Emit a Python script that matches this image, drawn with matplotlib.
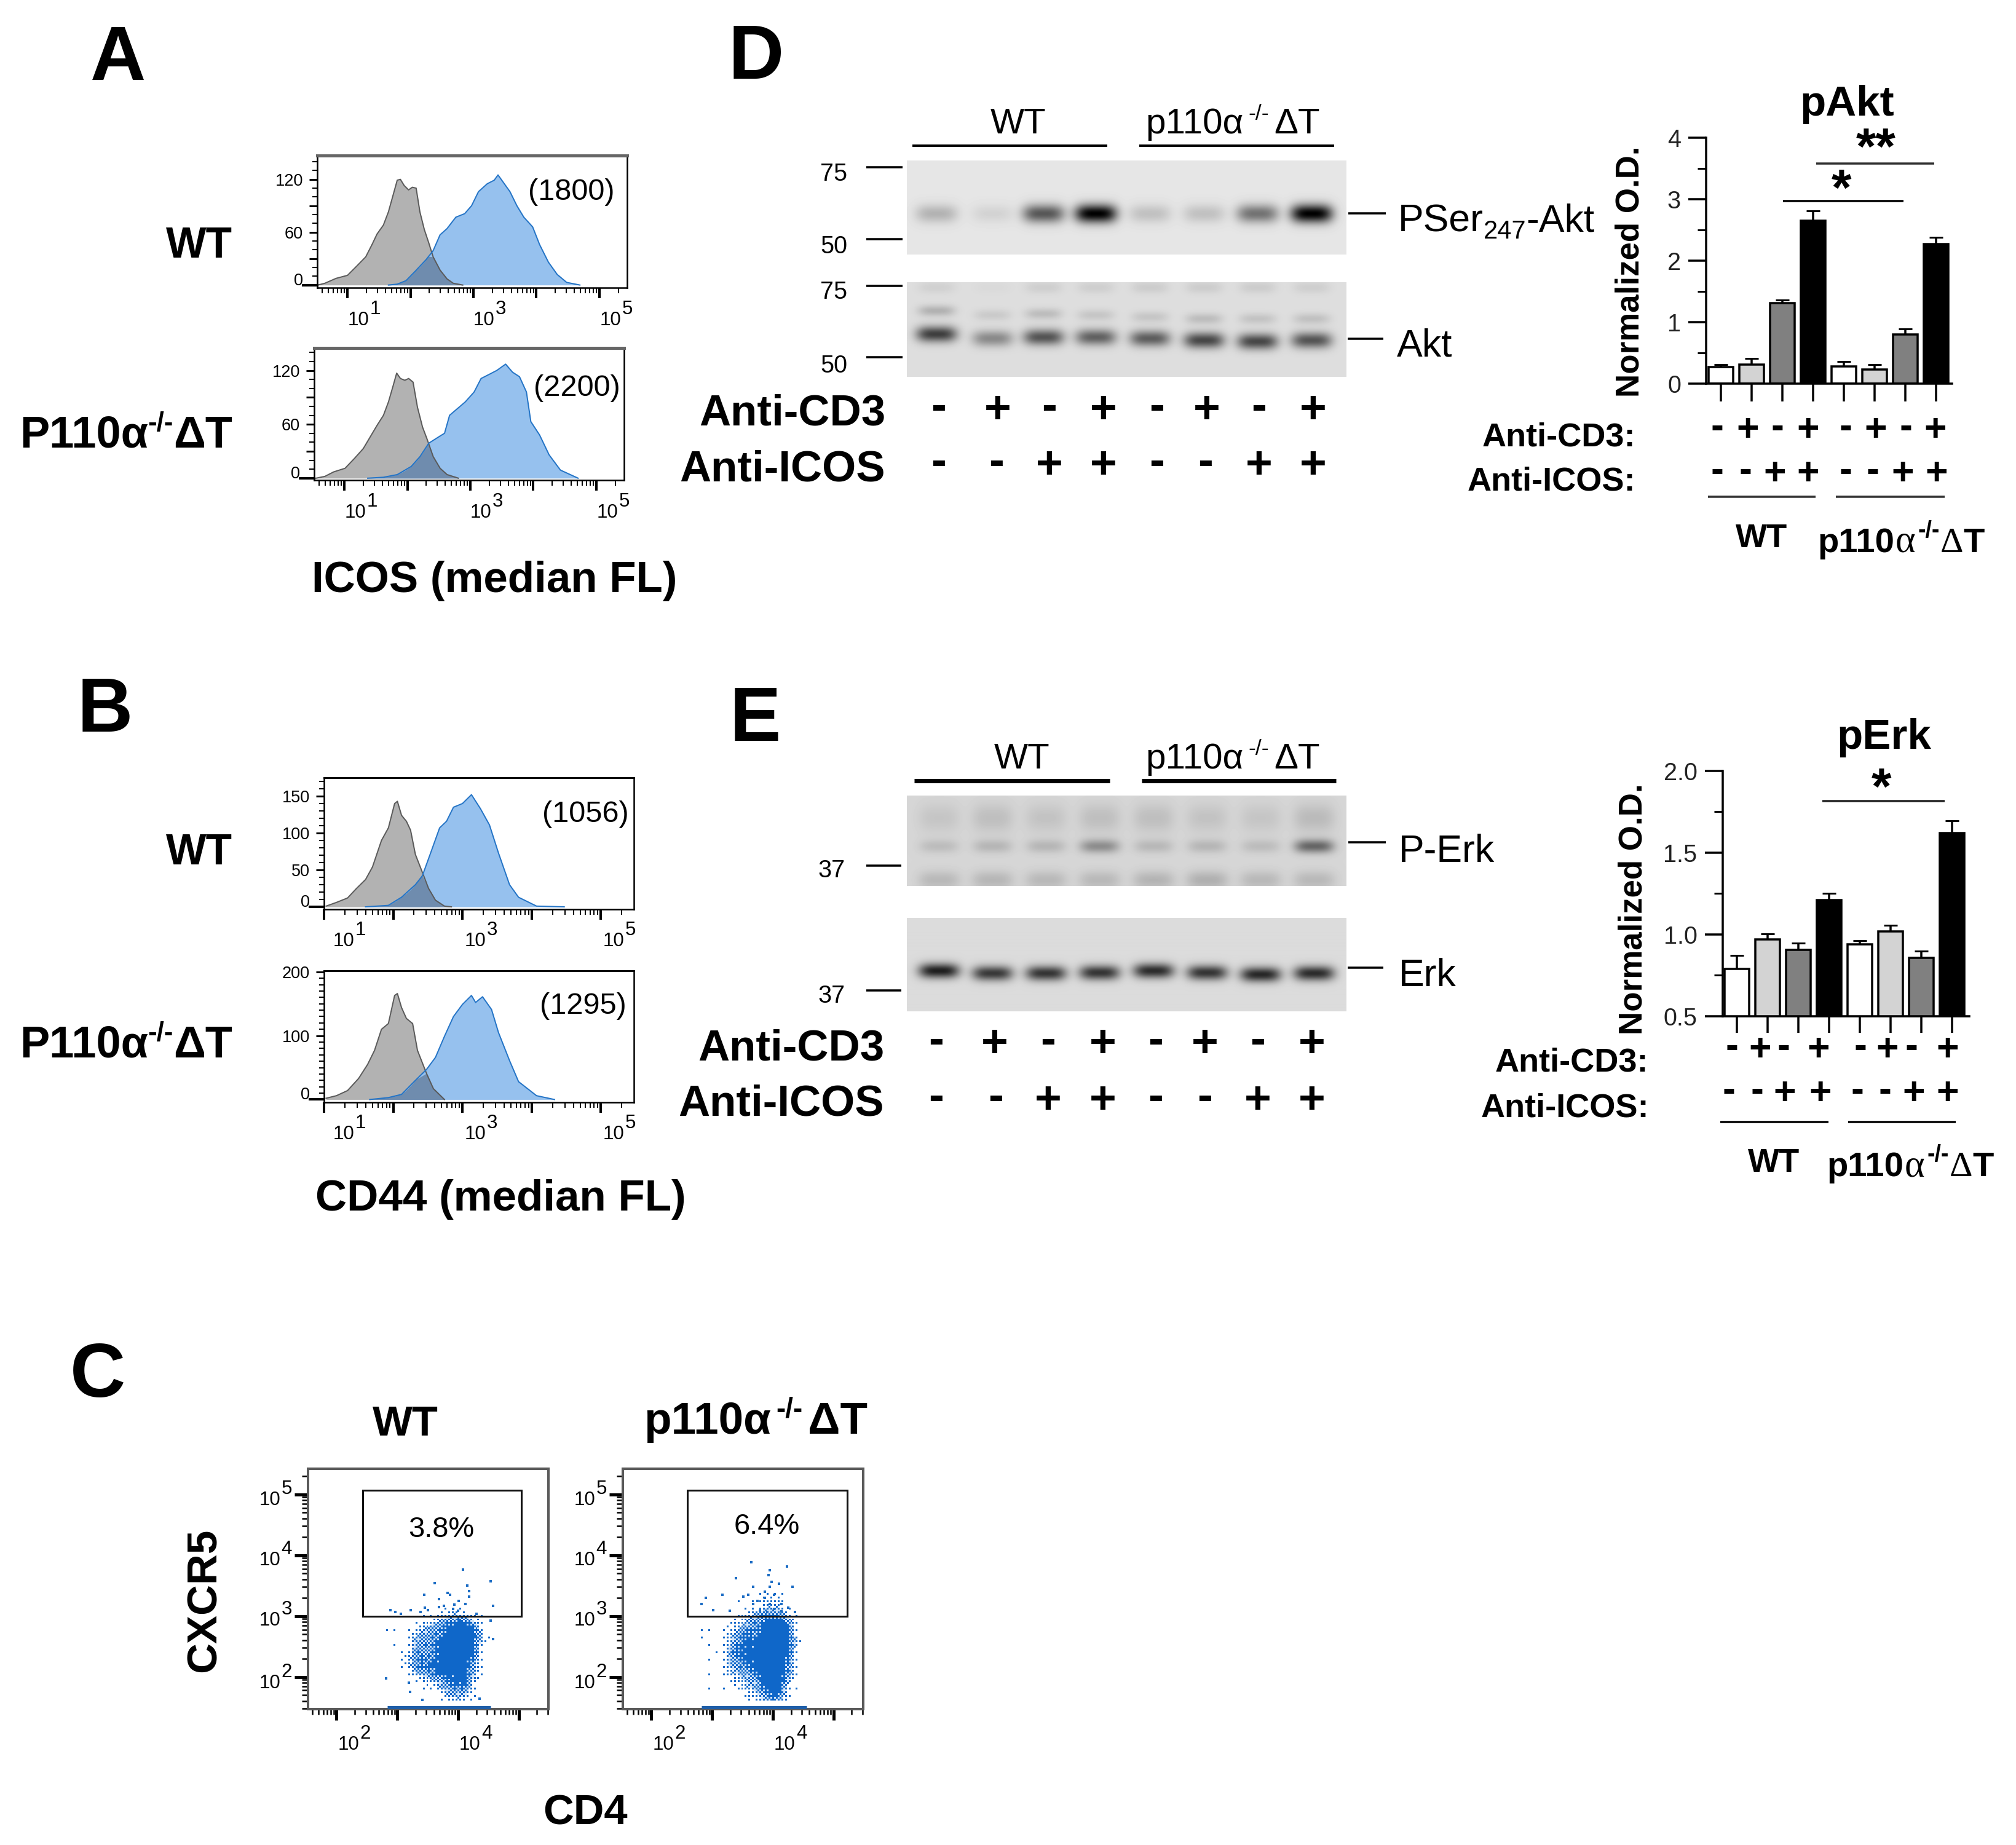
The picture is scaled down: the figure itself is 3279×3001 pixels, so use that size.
import numpy as np
import matplotlib
matplotlib.use('Agg')
import matplotlib.pyplot as plt
from matplotlib.colors import ListedColormap
from matplotlib.patches import Rectangle
from matplotlib.ticker import MultipleLocator, NullFormatter
from matplotlib.transforms import ScaledTranslation

W, H = 3279, 3001
DPI = 300
PT = 72 / DPI
SANS = 'Liberation Sans'
NARROW = ['Liberation Sans Narrow', 'Liberation Sans']
SERIF = 'Liberation Serif'
plt.rcParams['font.family'] = [SANS, 'DejaVu Sans']

# ---------- histogram data (log10 intensity, counts) ----------
a1_gray_x = [0.53,0.64,0.82,1.0,1.14,1.29,1.39,1.47,1.57,1.65,1.72,1.79,1.84,1.9,1.97,2.03,2.09,2.15,2.22,2.29,2.36,2.47,2.58,2.68,2.83]
a1_gray_y = [0,2,7.6,11,21,32,46,58,68,83,101,119,120,113,108,111,110,83,63,48,32,17,7,2,0]
a1_blue_x = [1.65,1.79,1.93,2.08,2.25,2.36,2.47,2.58,2.72,2.86,2.97,3.08,3.22,3.33,3.39,3.47,3.58,3.69,3.8,3.94,4.05,4.19,4.33,4.48,4.69]
a1_blue_y = [0,1,5,16,29,39,57,64,77,81,90,106,115,119,125,117,106,90,77,66,46,26,12,3,0]
a2_gray_x = [0.55,0.69,0.83,1.01,1.16,1.30,1.41,1.52,1.62,1.70,1.77,1.83,1.89,1.96,2.02,2.09,2.16,2.24,2.31,2.41,2.52,2.63,2.81]
a2_gray_y = [0,2,7,11,22,33,46,59,70,85,102,117,111,109,111,107,79,57,44,24,11,4,0]
a2_blue_x = [1.37,1.62,1.84,2.06,2.20,2.34,2.52,2.59,2.67,2.77,2.92,3.06,3.17,3.31,3.42,3.56,3.67,3.78,3.89,3.96,4.10,4.25,4.43,4.71]
a2_blue_y = [0,1,4,13,24,39,47,50,70,76,85,96,111,116,120,127,118,113,96,63,48,26,9,0]
b1_gray_x = [1.03,1.18,1.34,1.47,1.60,1.70,1.83,1.93,2.02,2.06,2.12,2.19,2.25,2.32,2.42,2.51,2.61,2.74,2.84]
b1_gray_y = [1,6,12,25,37,54,90,107,140,143,124,116,104,71,47,25,9,1,0]
b1_blue_x = [1.60,1.93,2.12,2.32,2.42,2.54,2.67,2.77,2.87,3.0,3.13,3.26,3.39,3.52,3.68,3.81,4.07,4.47]
b1_blue_y = [0,2,13,30,42,73,107,116,135,140,152,133,111,73,30,13,1,0]
b2_gray_x = [1.03,1.18,1.34,1.50,1.63,1.73,1.83,1.93,2.02,2.06,2.12,2.19,2.28,2.35,2.48,2.58,2.74]
b2_gray_y = [2,6,14,33,55,77,110,119,163,166,144,127,119,77,41,17,0]
b2_blue_x = [1.66,1.93,2.12,2.32,2.48,2.61,2.74,2.87,3.0,3.13,3.19,3.29,3.42,3.52,3.68,3.81,4.07,4.33]
b2_blue_y = [0,3,8,30,47,66,99,130,149,163,152,161,141,105,61,28,6,0]

# ---------- bars ----------
bar_colors = ['white', '#d3d3d3', '#808080', 'black'] * 2
pakt_vals = [0.27,0.31,1.31,2.65,0.28,0.23,0.80,2.27]
pakt_errs = [0.04,0.10,0.05,0.16,0.08,0.08,0.09,0.11]
perk_vals = [0.79,0.968,0.907,1.21,0.94,1.02,0.856,1.62]
perk_errs = [0.08,0.037,0.041,0.04,0.022,0.034,0.041,0.075]
anti_cd3 = ['-','+','-','+','-','+','-','+']
anti_icos = ['-','-','+','+','-','-','+','+']

# ---------- blot band intensities ----------
pakt_band = [.22,.08,.62,1,.16,.16,.5,1]
akt_main = [.72,.38,.62,.56,.58,.68,.68,.62]
akt_upper = [.2,.09,.15,.11,.11,.15,.12,.13]
akt_top = [.06,.02,.07,.07,.08,.08,.08,.07]
perk_main = [.12,.15,.15,.34,.14,.15,.12,.52]
perk_low = [.14,.15,.14,.14,.16,.18,.14,.14]
perk_up = [.08,.11,.09,.11,.11,.09,.08,.13]
erk_main = [.86,.74,.76,.76,.8,.76,.82,.8]

# ---------- CXCR5 / CD4 density tables (0-9, columns log CD4 2.7..4.6, rows log CXCR5 3.4..1.6) ----------
lx_cols = [2.7,2.8,2.9,3.0,3.1,3.2,3.3,3.4,3.5,3.6,3.7,3.8,3.9,4.0,4.1,4.2,4.3,4.4,4.5,4.6]
ly_rows = [3.4,3.3,3.2,3.1,3.0,2.9,2.8,2.7,2.6,2.5,2.4,2.3,2.2,2.1,2.0,1.9,1.8,1.7,1.6]
wt_density = [
 [0,0,0,0,0,0,0,0,0,0,0,0,0,0,0,0,0,0,0,0],
 [0,0,0,0,0,0,0,0,0,0,0,0,0,0,0,0,0,0,0,0],
 [0,0,0,0,0,0,0,0,0,0,0,1,1,1,1,0,0,0,0,0],
 [0,0,0,0,0,0,0,0,1,1,1,2,3,3,2,1,0,0,0,0],
 [0,0,0,0,0,0,0,1,1,2,3,4,5,5,5,3,2,1,0,0],
 [0,1,0,0,0,0,1,2,3,4,5,6,7,8,8,6,4,2,1,0],
 [0,2,1,0,0,1,3,4,5,6,6,7,9,9,9,9,6,3,1,0],
 [0,1,1,1,0,2,4,5,6,6,7,8,9,9,9,9,7,4,1,0],
 [0,1,0,1,1,3,5,6,6,6,7,9,9,9,9,9,7,4,2,0],
 [0,1,1,1,1,3,5,6,6,7,8,9,9,9,9,9,6,3,1,0],
 [0,1,0,1,2,4,6,6,6,6,8,9,9,9,9,8,6,3,1,0],
 [0,1,0,1,2,4,6,7,6,7,8,9,9,9,9,8,5,2,0,0],
 [0,1,0,0,2,4,6,7,7,8,9,9,9,9,9,7,4,2,0,0],
 [0,0,0,1,1,2,5,6,6,7,8,9,9,9,8,6,4,2,0,0],
 [0,1,0,0,0,1,3,4,5,6,7,7,8,9,8,6,3,1,0,0],
 [0,0,0,0,0,1,1,2,3,4,5,6,7,8,8,5,2,1,0,0],
 [0,0,0,0,0,0,1,1,1,2,4,5,6,6,6,4,2,0,0,0],
 [0,0,0,0,0,0,0,1,1,1,2,4,5,5,5,3,2,0,0,0],
 [0,0,0,0,0,0,0,0,0,1,1,3,3,4,3,2,1,0,0,0]]
ko_density = [
 [0,0,0,0,0,0,0,0,1,1,1,1,2,2,2,1,0,0,0,0],
 [0,0,0,0,0,0,0,0,1,1,1,2,3,3,3,2,1,0,0,0],
 [0,0,0,0,0,0,0,1,1,1,2,3,4,4,4,2,1,0,0,0],
 [0,0,0,0,0,0,1,1,1,2,3,4,5,5,5,3,2,0,0,0],
 [0,0,0,1,0,0,1,2,3,4,5,6,7,7,7,5,3,1,0,0],
 [0,1,0,1,0,1,2,3,4,5,6,7,8,9,9,7,5,2,1,0],
 [0,2,1,1,1,1,3,4,5,6,7,7,9,9,9,9,6,3,1,0],
 [0,2,1,1,1,2,4,5,7,7,7,8,9,9,9,9,6,3,1,0],
 [0,1,1,1,1,3,4,6,7,8,8,9,9,9,9,9,7,4,1,0],
 [0,1,1,1,1,3,5,7,8,8,8,9,9,9,9,9,6,4,1,0],
 [1,1,1,1,2,4,5,7,8,8,9,9,9,9,9,8,6,3,1,0],
 [0,1,1,1,1,3,5,6,7,8,8,9,9,9,9,8,5,3,1,0],
 [0,1,1,1,1,3,5,6,7,7,8,9,9,9,9,8,5,2,1,0],
 [0,1,0,1,1,2,4,5,6,6,7,9,9,9,9,7,5,2,0,0],
 [1,0,1,1,1,2,3,4,5,5,6,8,9,9,9,7,4,2,0,0],
 [0,1,1,1,1,1,2,3,4,5,5,7,9,9,9,6,3,1,0,0],
 [0,1,1,1,1,1,1,2,3,4,5,6,8,9,8,5,2,1,0,0],
 [0,0,1,1,0,1,1,1,2,3,4,5,7,8,7,4,2,0,0,0],
 [0,0,0,0,0,1,1,1,1,2,3,4,5,6,5,3,1,0,0,0]]
wt_out_x = [4.08,4.54,3.62,4.15,4.18,4.18,3.83,3.87,3.44,3.69,3.69,3.77,4.58,4.01,4.12,3.94,2.89,2.97,3.22,3.38,3.50,3.45,3.92,4.00,4.31,3.06,4.54,4.58,2.82,3.21,3.19,3.41,4.36]
wt_out_y = [3.76,3.57,3.54,3.50,3.41,3.32,3.38,3.35,3.35,3.28,3.15,3.17,3.17,3.25,3.20,3.19,3.10,3.07,3.10,3.07,3.10,3.14,3.12,3.09,3.04,3.04,2.92,2.62,1.98,1.75,1.90,1.62,1.64]
ko_out_x = [3.65,4.23,3.95,3.39,3.93,3.98,3.68,4.10,4.33,3.52,3.60,3.17,2.83,2.90,3.02,3.29,3.75,3.87,3.95,4.02,4.14,4.25,3.79,3.91,4.02,4.14,4.37,3.87,3.95,3.68]
ko_out_y = [3.88,3.81,3.75,3.62,3.67,3.56,3.48,3.53,3.48,3.32,3.35,3.35,3.20,3.30,3.10,3.09,3.25,3.30,3.20,3.35,3.20,3.14,3.09,3.07,3.12,3.08,3.07,3.40,3.48,3.20]
wt_floor = [2.84, 4.54]
ko_floor = [2.83, 4.56]
wt_gate = [2.43, 5.04, 3.0, 5.07]
ko_gate = [2.59, 5.23, 3.0, 5.07]

# ---------- figure ----------
fig = plt.figure(figsize=(W / DPI, H / DPI), dpi=DPI, facecolor='white')

def axpx(x0, y0, x1, y1, **kw):
    return fig.add_axes([x0 / W, 1 - y1 / H, (x1 - x0) / W, (y1 - y0) / H], **kw)

ov = axpx(0, 0, W, H, zorder=20)
ov.set_xlim(0, W); ov.set_ylim(H, 0); ov.axis('off'); ov.patch.set_alpha(0)

def px(v):
    return v * PT

def txt(x, yc, s, size, weight='normal', ha='center', family=SANS, rot=0, color='black', k=0.36):
    e = size / PT * k
    if rot:
        return ov.text(x + e, yc, s, fontsize=size, fontweight=weight, ha='center', va='baseline',
                       rotation=rot, family=family, color=color, rotation_mode='anchor')
    return ov.text(x, yc + e, s, fontsize=size, fontweight=weight, ha=ha, va='baseline',
                   family=family, color=color)

def rich(x, base, parts, ha='left'):
    """parts: (text, size, weight, family, rise-in-px, gap-after-px)"""
    r = fig.canvas.get_renderer()
    arts, cx = [], x
    for s, size, weight, family, rise, gap in parts:
        t = ov.text(cx, base - rise, s, fontsize=size, fontweight=weight, family=family, ha='left', va='baseline')
        w = t.get_window_extent(r).width
        arts.append(t)
        cx += w + gap
    tot = cx - x
    shift = {'left': 0, 'center': tot / 2, 'right': tot}[ha]
    if shift:
        for t in arts:
            a, b = t.get_position()
            t.set_position((a - shift, b))

def line(x0, x1, y, lw=3, color='black'):
    ov.plot([x0, x1], [y, y], color=color, lw=px(lw), solid_capstyle='butt')

def sign(x, y, s, size=18):
    k = 0.33 if s == '+' else 0.27
    ov.text(x, y + size / PT * k, s, fontsize=size, fontweight='bold', ha='center', va='baseline')

def decade(x, base, exp, size=7.5):
    rich(x, base, [('10', size, 'normal', NARROW, 0, 1), (str(exp), size, 'normal', NARROW, 18, 0)])

# ---------- histograms ----------
def hist(rect, xlim, ylim, gx, gy, bx, by, majors, labels, minor_step, top_col='#666666', top_lw=5):
    ax = axpx(*rect)
    gx, bx = 10.0 ** np.array(gx), 10.0 ** np.array(bx)
    gy, by = np.array(gy, float), np.array(by, float)
    ax.set_xscale('log')
    ax.fill_between(gx, 0, gy, color='#b2b2b2', lw=0)
    ax.fill_between(bx, 0, by, color='#96c1ee', lw=0)
    grid = np.sort(np.concatenate([gx, bx]))
    ov_y = np.minimum(np.interp(grid, gx, gy, left=0, right=0), np.interp(grid, bx, by, left=0, right=0))
    ax.fill_between(grid, 0, ov_y, color='#6f8cae', lw=0)
    ax.plot(gx, gy, color='#5a5a5a', lw=px(2))
    ax.plot(bx, by, color='#2474c6', lw=px(2))
    ax.set_xlim(10.0 ** xlim[0], 10.0 ** xlim[1])
    ax.set_ylim(*ylim)
    ax.set_xticks(10.0 ** np.arange(1, 6))
    sub = np.arange(2, 10)
    ax.set_xticks([d * s for d in 10.0 ** np.arange(0, 6) for s in sub
                   if 10.0 ** xlim[0] < d * s < 10.0 ** xlim[1]], minor=True)
    ax.xaxis.set_major_formatter(NullFormatter()); ax.xaxis.set_minor_formatter(NullFormatter())
    ax.set_yticks(majors); ax.set_yticklabels(labels, family=NARROW, fontsize=6.5)
    ax.yaxis.set_minor_locator(MultipleLocator(minor_step))
    ax.tick_params(axis='x', which='major', length=px(17), width=px(4), pad=0)
    ax.tick_params(axis='x', which='minor', length=px(9), width=px(2))
    ax.tick_params(axis='y', which='major', length=px(13), width=px(3), pad=px(10))
    ax.tick_params(axis='y', which='minor', length=px(8), width=px(2))
    ax.plot([-0.045, 0], [0, 0], transform=ax.get_yaxis_transform(), color='black', lw=px(4), clip_on=False)
    lab0 = ax.get_yticklabels()[0]
    lab0.set_transform(lab0.get_transform() + ScaledTranslation(0, 10 / DPI, fig.dpi_scale_trans))
    for s in ax.spines.values():
        s.set_linewidth(px(2.5))
    ax.spines['top'].set_color(top_col); ax.spines['top'].set_linewidth(px(top_lw))
    return ax

hist((516, 253, 1020, 467.5), (0.52, 5.44), (-2.7, 147), a1_gray_x, a1_gray_y, a1_blue_x, a1_blue_y, [0,30,60,90,120], ['0','','60','','120'], 10)
hist((511, 566, 1015, 781), (0.52, 5.44), (-2.2, 145), a2_gray_x, a2_gray_y, a2_blue_x, a2_blue_y, [0,30,60,90,120], ['0','','60','','120'], 10)
hist((527, 1265, 1031, 1479), (1.0, 5.476), (-3.3, 175), b1_gray_x, b1_gray_y, b1_blue_x, b1_blue_y, [0,50,100,150], ['0','50','100','150'], 10, top_col='black', top_lw=3)
hist((527, 1579, 1031, 1793), (1.0, 5.476), (-4.4, 201.7), b2_gray_x, b2_gray_y, b2_blue_x, b2_blue_y, [0,100,200], ['0','100','200'], 10, top_col='black', top_lw=3)

for (t1, t3, t5), base in [((566, 770, 976), 529), ((561, 765, 971), 842)]:
    decade(t1, base, 1); decade(t3, base, 3); decade(t5, base, 5)
for base in (1539, 1853):
    decade(542, base, 1); decade(756, base, 3); decade(981, base, 5)

txt(929, 307, '(1800)', 11.7)
txt(938, 626, '(2200)', 11.7)
txt(952, 1319, '(1056)', 11.7)
txt(948, 1631, '(1295)', 11.7)

# ---------- scatter panels ----------
def bayer(n):
    if n == 1:
        return np.array([[0.0]])
    m = bayer(n // 2)
    return np.block([[4 * m, 4 * m + 2], [4 * m + 3, 4 * m + 1]])

def scatter_panel(rect, density, out_x, out_y, floor, gate, label, lab_xy):
    ax = axpx(*rect)
    ax.set_xscale('log'); ax.set_yscale('log')
    xlim, ylim = (1.53, 5.49), (1.47, 5.42)
    d = np.array(density, float)[::-1]
    rows = np.array(ly_rows)[::-1]
    step = 0.03
    xe = np.arange(2.7, 4.62, step); ye = np.arange(1.55, 3.44, step)
    xc, yc = xe[:-1] + step / 2, ye[:-1] + step / 2
    tmp = np.array([np.interp(xc, lx_cols, r, left=0, right=0) for r in d])
    fine = np.array([np.interp(yc, rows, tmp[:, j], left=0, right=0) for j in range(len(xc))]).T
    b = bayer(8)
    thr = (b[np.ix_(np.arange(len(yc)) % 8, np.arange(len(xc)) % 8)] + 0.5) / 64
    level = np.zeros_like(fine)
    level[fine >= 4.5] = 1
    level[(fine / 9) ** 1.8 * 1.15 > thr] = 2
    cm = ListedColormap(['#ffffff00', '#cfe2f7', '#0f67c9'])
    ax.pcolormesh(10.0 ** xe, 10.0 ** ye, level, cmap=cm, vmin=0, vmax=2, antialiased=False, linewidth=0)
    ax.scatter(10.0 ** np.array(out_x), 10.0 ** np.array(out_y), s=0.7, marker='s', color='#1b6cc4', linewidths=0)
    ax.plot(10.0 ** np.array(floor), [10.0 ** 1.495] * 2, color='#1f5fa8', lw=px(7), solid_capstyle='butt', zorder=5)
    g = gate
    ax.add_patch(Rectangle((10.0 ** g[0], 10.0 ** g[2]), 10.0 ** g[1] - 10.0 ** g[0], 10.0 ** g[3] - 10.0 ** g[2],
                           fill=False, ec='#111111', lw=px(3), zorder=6))
    ax.set_xlim(10.0 ** xlim[0], 10.0 ** xlim[1]); ax.set_ylim(10.0 ** ylim[0], 10.0 ** ylim[1])
    ax.set_xticks(10.0 ** np.arange(2, 6)); ax.set_yticks(10.0 ** np.arange(2, 6))
    ax.set_xticks([p * s for p in 10.0 ** np.arange(1, 6) for s in range(2, 10) if xlim[0] < np.log10(p * s) < xlim[1]], minor=True)
    ax.set_yticks([p * s for p in 10.0 ** np.arange(1, 6) for s in range(2, 10) if ylim[0] < np.log10(p * s) < ylim[1]], minor=True)
    for a in (ax.xaxis, ax.yaxis):
        a.set_major_formatter(NullFormatter()); a.set_minor_formatter(NullFormatter())
    ax.tick_params(axis='x', which='major', length=px(18), width=px(5))
    ax.tick_params(axis='x', which='minor', length=px(9), width=px(2.5))
    ax.tick_params(axis='y', which='major', length=px(22), width=px(5))
    ax.tick_params(axis='y', which='minor', length=px(10), width=px(2.5))
    for s in ax.spines.values():
        s.set_linewidth(px(4)); s.set_color('#5a5a5a')
    txt(lab_xy[0], lab_xy[1], label, 11.3)

scatter_panel((501, 2389, 892, 2780), wt_density, wt_out_x, wt_out_y, wt_floor, wt_gate, '3.8%', (718, 2483))
scatter_panel((1013, 2389, 1404, 2780), ko_density, ko_out_x, ko_out_y, ko_floor, ko_gate, '6.4%', (1247, 2478))
for off in (0, 512):
    decade(550 + off, 2846, 2, 7.5); decade(747 + off, 2846, 4, 7.5)
    for t, e in zip((2430, 2528, 2626, 2728), (5, 4, 3, 2)):
        decade(422 + off, t + 18, e, 7.5)

# ---------- blots ----------
def blot(rect, lanes, bands, bg):
    ax = axpx(*rect)
    x0, y0, x1, y1 = rect
    X, Y = np.meshgrid(np.arange(x0, x1, 1.0), np.arange(y0, y1, 1.0))
    dark = np.zeros_like(X)
    for ys, vals, hw, hh in bands:
        ys = np.broadcast_to(ys, (8,))
        for lx, ly, v in zip(lanes, ys, vals):
            dark += v * np.exp(-np.abs((X - lx) / hw) ** 3.5 - ((Y - ly) / hh) ** 2)
    ax.imshow(bg * (1 - np.clip(dark, 0, 1)), cmap='gray', vmin=0, vmax=1, aspect='auto', interpolation='bilinear')
    ax.axis('off')

laneD = [1523, 1614, 1697, 1782, 1870, 1958, 2045, 2133]
laneE = [1527, 1614, 1701, 1788, 1876, 1963, 2050, 2137]
blot((1475, 261, 2190, 414), laneD, [(347, pakt_band, 34, 15)], 0.90)
blot((1475, 459, 2190, 613), laneD, [([543, 550, 548, 548, 550, 553, 555, 553], akt_main, 33, 13),
                                     ([505, 512, 510, 512, 515, 518, 518, 518], akt_upper, 30, 9),
                                     (467, akt_top, 30, 10)], 0.87)
blot((1475, 1294, 2190, 1441), laneE, [(1376, perk_main, 32, 11), (1431, perk_low, 34, 15), (1330, perk_up, 34, 24)], 0.84)
blot((1475, 1493, 2190, 1645), laneE, [([1579, 1583, 1583, 1582, 1579, 1582, 1585, 1583], erk_main, 33, 12)], 0.86)

# MW markers and band labels
for y_line, y_txt, s in [(272, 280, '75'), (389, 398, '50'), (465, 472, '75'), (581, 592, '50')]:
    line(1409, 1468, y_line, 3.5)
    txt(1356, y_txt, s, 9.5, family=NARROW)
for y_line, y_txt in [(1408, 1413), (1611, 1617)]:
    line(1409, 1466, y_line, 3.5)
    txt(1353, y_txt, '37', 9.5, family=NARROW)
line(2193, 2254, 347, 3.5); line(2192, 2250, 551, 3.5); line(2193, 2254, 1370, 3.5); line(2192, 2250, 1574, 3.5)
rich(2274, 376.5, [('PSer', 15, 'normal', SANS, 0, 0), ('247', 10, 'normal', SANS, -12, 0), ('-Akt', 15, 'normal', SANS, 0, 0)])
txt(2272, 557, 'Akt', 15, ha='left')
txt(2275, 1380, 'P-Erk', 15, ha='left')
txt(2275, 1582, 'Erk', 15, ha='left')

# group headers on blots
txt(1656, 196, 'WT', 14)
txt(1662, 1229, 'WT', 14)
for cx, base in [(2005, 217), (2005, 1250)]:
    rich(cx, base, [('p110α', 14, 'normal', SANS, 0, 8), ('-/-', 8.5, 'normal', SANS, 22, 8), ('ΔT', 14, 'normal', SANS, 0, 0)], ha='center')
line(1484, 1801, 237, 4); line(1853, 2170, 237, 4)
line(1487, 1805, 1270, 7); line(1857, 2173, 1270, 7)

# +/- rows under blots
d_cd3_x = [1527, 1623, 1707, 1795, 1882, 1963, 2048, 2136]
d_icos_x = [1527, 1621, 1707, 1795, 1882, 1961, 2048, 2136]
e_cd3_x = [1523, 1618, 1705, 1794, 1880, 1960, 2046, 2134]
e_icos_x = [1523, 1620, 1705, 1794, 1880, 1960, 2046, 2134]
for xs, y, vals in [(d_cd3_x, 663, anti_cd3), (d_icos_x, 753, anti_icos), (e_cd3_x, 1694, anti_cd3), (e_icos_x, 1786, anti_icos)]:
    for x, s in zip(xs, vals):
        sign(x, y, s)
txt(1440, 666, 'Anti-CD3', 17, 'bold', ha='right')
txt(1440, 757, 'Anti-ICOS', 17, 'bold', ha='right')
txt(1438, 1699, 'Anti-CD3', 17, 'bold', ha='right')
txt(1438, 1789, 'Anti-ICOS', 17, 'bold', ha='right')

# ---------- bar charts ----------
def bars(rect, xlim, ylim, vals, errs, majors, minors, fmt, tick_len):
    ax = axpx(*rect)
    x = np.arange(len(vals))
    ax.bar(x, vals, width=0.8, color=bar_colors, edgecolor='black', linewidth=px(3.5), zorder=2)
    ax.errorbar(x, vals, yerr=[np.zeros(len(errs)), errs], fmt='none', ecolor='black',
                elinewidth=px(3.5), capsize=px(11), capthick=px(3), zorder=1)
    ax.set_xlim(*xlim); ax.set_ylim(*ylim)
    ax.set_xticks(x); ax.set_xticklabels([])
    ax.set_yticks(majors); ax.set_yticklabels([fmt % v for v in majors], fontsize=9.5, color='#222222')
    ax.set_yticks(minors, minor=True)
    ax.tick_params(axis='x', length=px(tick_len), width=px(3.5))
    ax.tick_params(axis='y', which='major', length=px(29), width=px(3.5), pad=px(12))
    ax.tick_params(axis='y', which='minor', length=px(14), width=px(3))
    ax.spines['top'].set_visible(False); ax.spines['right'].set_visible(False)
    ax.spines['left'].set_linewidth(px(3.5)); ax.spines['bottom'].set_linewidth(px(3.5))
    ax.patch.set_alpha(0)
    return ax

bars((2775, 224, 3175, 624), (-0.472, 7.53), (0, 4), pakt_vals, pakt_errs, [0,1,2,3,4], [0.5,1.5,2.5,3.5], '%d', 29)
bars((2801.5, 1253.6, 3203, 1653), (-0.478, 7.55), (0.5, 2.0), perk_vals, perk_errs, [0.5,1.0,1.5,2.0], [0.75,1.25,1.75], '%.1f', 27)

txt(2646, 442, 'Normalized O.D.', 12.7, 'bold', rot=90)
txt(2651, 1479, 'Normalized O.D.', 12.7, 'bold', rot=90)
txt(3004, 170, 'pAkt', 16.6, 'bold', k=0.26)
txt(3064, 1200, 'pErk', 16.6, 'bold', k=0.26)
line(2954, 3146, 266, 3.5, '#333333'); line(2900, 3096, 327, 3.5)
line(2964, 3163, 1303, 3.5, '#222222')
for x, y, s in [(3051, 219, '**'), (2995, 286, '*'), (3060, 1260, '*')]:
    txt(x, y, s, 20, 'bold', k=0.58)

pa_cd3_x = [2793, 2843, 2891, 2941, 3002, 3051, 3100, 3148]
pa_ic_x = [2793, 2839, 2887, 2941, 3002, 3046, 3095, 3150]
pe_cd3_x = [2817, 2863, 2901, 2958, 3026, 3070, 3109, 3168]
pe_ic_x = [2812, 2858, 2903, 2961, 3021, 3066, 3113, 3168]
for xs, y, vals in [(pa_cd3_x, 696, anti_cd3), (pa_ic_x, 767, anti_icos), (pe_cd3_x, 1704, anti_cd3), (pe_ic_x, 1775, anti_icos)]:
    for x, s in zip(xs, vals):
        sign(x, y, s, 15)
txt(2660, 706, 'Anti-CD3:', 13, 'bold', ha='right')
txt(2660, 778, 'Anti-ICOS:', 13, 'bold', ha='right')
txt(2681, 1723, 'Anti-CD3:', 13, 'bold', ha='right')
txt(2682, 1797, 'Anti-ICOS:', 13, 'bold', ha='right')
line(2778, 2953, 808, 3.5, '#333333'); line(2986, 3163, 808, 3.5, '#333333')
line(2798, 2974, 1825, 3.5); line(3006, 3181, 1825, 3.5)
txt(2865, 870, 'WT', 13, 'bold')
txt(2885, 1886, 'WT', 13, 'bold')
for x0, base in [(2956, 898), (2971, 1913)]:
    rich(x0, base, [('p110', 13.5, 'bold', SANS, 0, 2), ('α', 15, 'normal', SERIF, 0, 4), ('-/-', 9, 'bold', SANS, 24, 1),
                    ('Δ', 14, 'normal', SERIF, 0, 0), ('T', 13.5, 'bold', SANS, 0, 0)])

# ---------- row / panel labels ----------
txt(378, 394, 'WT', 16.7, 'bold', ha='right')
txt(378, 1381, 'WT', 16.7, 'bold', ha='right')
for base in (728, 1720):
    rich(378, base, [('P110α', 17.3, 'bold', SANS, 0, 0), ('-/-', 10.5, 'bold', SANS, 27, 0), ('ΔT', 17.3, 'bold', SANS, 0, 0)], ha='right')
txt(804, 937, 'ICOS (median FL)', 17.0, 'bold')
txt(814, 1944, 'CD44 (median FL)', 17.0, 'bold')
txt(659, 2310, 'WT', 16.5, 'bold')
rich(1229, 2332, [('p110α', 17.5, 'bold', SANS, 0, 8), ('-/-', 11, 'bold', SANS, 27, 8), ('ΔT', 17.5, 'bold', SANS, 0, 0)], ha='center')
txt(326, 2603, 'CXCR5', 16.6, 'bold', rot=90)
txt(952, 2943, 'CD4', 16.5, 'bold')
for s, x, y in [('A', 192, 85), ('B', 171, 1145), ('C', 159, 2227), ('D', 1230, 83), ('E', 1228, 1160)]:
    txt(x, y, s, 30, 'bold')

fig.savefig('out.png', dpi=DPI, facecolor='white')
